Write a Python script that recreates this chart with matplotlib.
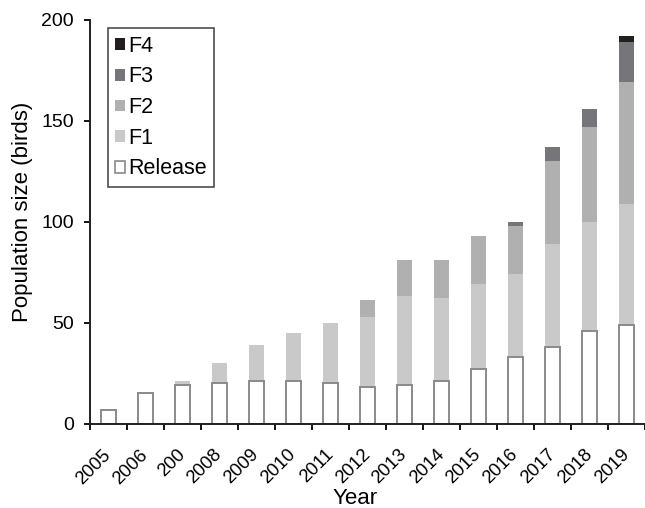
import matplotlib
matplotlib.use("Agg")
import matplotlib.pyplot as plt
from matplotlib.patches import Patch
import numpy as np

plt.rcParams['font.family'] = ['Liberation Sans', 'DejaVu Sans']

years = ["2005", "2006", "200", "2008", "2009", "2010", "2011", "2012",
         "2013", "2014", "2015", "2016", "2017", "2018", "2019"]
release = [7, 15, 19, 20, 21, 21, 20, 18, 19, 21, 27, 33, 38, 46, 49]
f1 = [0, 0, 2, 10, 18, 24, 30, 35, 44, 41, 42, 41, 51, 54, 60]
f2 = [0, 0, 0, 0, 0, 0, 0, 8, 18, 19, 24, 24, 41, 47, 60]
f3 = [0, 0, 0, 0, 0, 0, 0, 0, 0, 0, 0, 2, 7, 9, 20]
f4 = [0, 0, 0, 0, 0, 0, 0, 0, 0, 0, 0, 0, 0, 0, 3]

c_rel_edge = '#8a8a8a'
c_f1 = '#c9c9c9'
c_f2 = '#b0b0b0'
c_f3 = '#76767a'
c_f4 = '#231f20'

fig = plt.figure(figsize=(6.45, 5.08), dpi=100)
ax = fig.add_axes([90/645, 1-423.7/508, 1-90/645, (423.7-19.7)/508])

x = np.arange(len(years))
w = 0.4
rel = np.array(release, float)
a1 = np.array(f1, float)
a2 = np.array(f2, float)
a3 = np.array(f3, float)
a4 = np.array(f4, float)

ax.bar(x, a1, w, bottom=rel, color=c_f1, linewidth=0)
ax.bar(x, a2, w, bottom=rel + a1, color=c_f2, linewidth=0)
ax.bar(x, a3, w, bottom=rel + a1 + a2, color=c_f3, linewidth=0)
ax.bar(x, a4, w, bottom=rel + a1 + a2 + a3, color=c_f4, linewidth=0)
ax.bar(x, rel, w, color='white', edgecolor=c_rel_edge, linewidth=1.4)

ax.set_xlim(-0.5, 14.26)
ax.set_ylim(0, 200)
ax.set_yticks([0, 50, 100, 150, 200])
ax.set_xticks(x)
ax.set_xticklabels(years, rotation=45, ha='right', va='center',
                   rotation_mode='anchor', fontsize=13.3)
ax.set_xticks(np.arange(-0.5, 14.6, 1), minor=True)
ax.tick_params(axis='x', which='major', length=0, pad=20.5)
ax.tick_params(axis='x', which='minor', length=4.5, width=1.3, direction='out')
ax.tick_params(axis='y', length=4.5, width=1.3, labelsize=14, pad=7)

for s in ['top', 'right']:
    ax.spines[s].set_visible(False)
for s in ['left', 'bottom']:
    ax.spines[s].set_linewidth(1.4)
    ax.spines[s].set_color('#231f20')

ax.set_ylabel('Population size (birds)', fontsize=16)
ax.yaxis.set_label_coords(-0.103, 0.525)
ax.set_xlabel('Year', fontsize=16)
ax.xaxis.set_label_coords(0.477, -0.158)

handles = [Patch(facecolor=c_f4, edgecolor='none', label='F4'),
           Patch(facecolor=c_f3, edgecolor='none', label='F3'),
           Patch(facecolor=c_f2, edgecolor='none', label='F2'),
           Patch(facecolor=c_f1, edgecolor='none', label='F1'),
           Patch(facecolor='white', edgecolor=c_rel_edge, linewidth=1.2, label='Release')]
leg = ax.legend(handles=handles, loc='upper left', bbox_to_anchor=(0.032, 0.979),
                borderaxespad=0, fontsize=15.5, handlelength=0.45, handleheight=0.45,
                handletextpad=0.15, labelspacing=0.45, fancybox=False,
                edgecolor='#231f20', borderpad=0.35, frameon=True)
leg.get_frame().set_linewidth(1.2)

fig.savefig('out.png', dpi=100)
